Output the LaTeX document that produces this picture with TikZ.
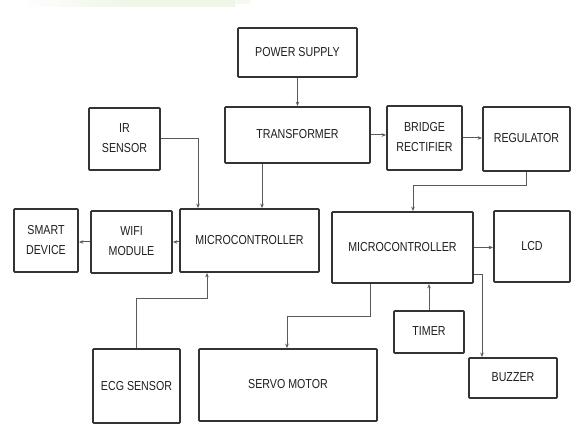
\documentclass[tikz,border=0pt]{standalone}
\usepackage{fontspec}
\setmainfont{Liberation Sans}
\usetikzlibrary{arrows.meta,calc}
\definecolor{boxc}{HTML}{333333}
\definecolor{linec}{HTML}{5A5A5A}
\definecolor{txtc}{HTML}{1E1E1E}
\definecolor{bandg}{HTML}{EEF6E6}
\newcommand\blbl[1]{\scalebox{0.82}[1]{\begin{tabular}{@{}c@{}}#1\end{tabular}}}
\begin{document}
\begin{tikzpicture}[x=1pt,y=-1pt,
  blk/.style={draw=boxc,line width=1.8pt,rounded corners=0.8pt,inner sep=0pt,
    text=txtc,font=\fontsize{13}{20}\selectfont,align=center},
  conn/.style={draw=linec,line width=1pt,-{Stealth[length=4.5pt,width=3.5pt]}},
  plain/.style={draw=linec,line width=1pt}]
\useasboundingbox (0,0) rectangle (574,433);
\fill[left color=white,right color=bandg,middle color=bandg] (20,0) rectangle (235,7);
\fill[bandg!60] (235,0) rectangle (250,4);
% blocks
\node[blk,minimum width=119,minimum height=49] (ps) at (297.5,52.5) {\blbl{POWER SUPPLY}};
\node[blk,minimum width=145,minimum height=56] (tr) at (297.5,135) {\blbl{TRANSFORMER}};
\node[blk,minimum width=75,minimum height=64] (br) at (424.5,138) {\blbl{BRIDGE\\RECTIFIER}};
\node[blk,minimum width=87,minimum height=64] (reg) at (526.5,139) {\blbl{REGULATOR}};
\node[blk,minimum width=71,minimum height=62] (ir) at (124.5,139) {\blbl{IR\\SENSOR}};
\node[blk,minimum width=64,minimum height=63] (sd) at (46,240.5) {\blbl{SMART\\DEVICE}};
\node[blk,minimum width=81,minimum height=62] (wifi) at (131.5,242) {\blbl{WIFI\\MODULE}};
\node[blk,minimum width=139,minimum height=63] (mc1) at (249.5,240.5) {\blbl{MICROCONTROLLER}};
\node[blk,minimum width=141,minimum height=71] (mc2) at (402.5,247.5) {\blbl{MICROCONTROLLER}};
\node[blk,minimum width=76,minimum height=71] (lcd) at (532,246.5) {\blbl{LCD}};
\node[blk,minimum width=70,minimum height=42] (timer) at (429,332) {\blbl{TIMER}};
\node[blk,minimum width=88,minimum height=40] (buz) at (513,378) {\blbl{BUZZER}};
\node[blk,minimum width=87,minimum height=74] (ecg) at (136.5,386) {\blbl{ECG SENSOR}};
\node[blk,minimum width=178,minimum height=72] (servo) at (288,385) {\blbl{SERVO MOTOR}};
% connectors
\draw[conn] (ps.south) -- (tr.north);
\draw[conn] (tr.east) -- (br.west |- tr.east);
\draw[conn] (br.east) -- (reg.west |- br.east);
\draw[conn] (reg.south) -- ++(0,14) -| ([xshift=10.5pt]mc2.north);
\draw[conn] (ir.east) -| ([xshift=-51.5pt]mc1.north);
\draw[conn] ([xshift=-35.5pt]tr.south) -- ([xshift=-35.5pt]tr.south |- mc1.north);
\draw[conn] (mc1.west |- wifi.east) -- (wifi.east);
\draw[conn] (wifi.west) -- (sd.east |- wifi.west);
\draw[conn] (ecg.north) -- ++(0,-50) -| ([xshift=-42.5pt]mc1.south);
\draw[conn] (mc2.east) -- (lcd.west |- mc2.east);
\draw[conn] ([xshift=-32.5pt]mc2.south) -- ++(0,33) -| ([xshift=-1pt]servo.north);
\draw[conn] (timer.north) -- (timer.north |- mc2.south);
\draw[conn] ([yshift=9pt]mc2.south east) -| ([xshift=-31pt]buz.north);
\end{tikzpicture}
\end{document}
